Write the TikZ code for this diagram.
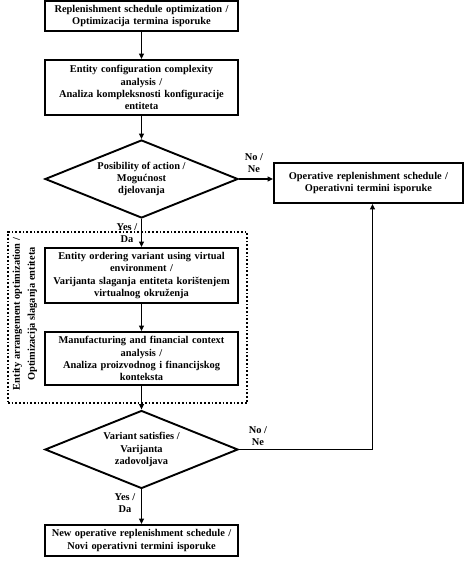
\documentclass[tikz,border=0pt]{standalone}
\usepackage{fontspec}
\setmainfont{Liberation Serif}
\usetikzlibrary{shapes.geometric,arrows.meta}
\begin{document}
\begin{tikzpicture}[x=1pt,y=-1pt,
  font=\bfseries\fontsize{10.4}{12.2}\selectfont,
  procbox/.style={draw,line width=1.9pt,align=center,inner sep=0pt,minimum width=193pt,text width=190pt},
  decbox/.style={draw,diamond,line width=1.9pt,align=center,inner sep=0pt,aspect=2.47,minimum width=193pt,minimum height=78pt},
  arr/.style={line width=1.7pt,-{Triangle[length=5.5pt,width=5pt]}},
  lbl/.style={align=center,inner sep=0pt}]
\useasboundingbox (0,0) rectangle (474,564);
\node[procbox,minimum height=30pt] (b1) at (141.5,16) {Replenishment schedule optimization /\\Optimizacija termina isporuke};
\node[procbox,minimum height=55pt] (b2) at (141.5,87.5) {Entity configuration complexity\\analysis /\\Analiza kompleksnosti konfiguracije\\entiteta};
\node[decbox] (d1) at (141.5,179) {Posibility of action /\\Mogućnost\\djelovanja};
\node[procbox,minimum width=189pt,text width=186pt,minimum height=40pt] (op) at (368.5,183) {Operative replenishment schedule /\\Operativni termini isporuke};
\node[procbox,minimum height=55pt] (b3) at (141.5,275.5) {Entity ordering variant using virtual\\environment /\\Varijanta slaganja entiteta korištenjem\\virtualnog okruženja};
\node[procbox,minimum height=53pt] (b4) at (141.5,358.5) {Manufacturing and financial context\\analysis /\\Analiza proizvodnog i financijskog\\konteksta};
\node[decbox] (d2) at (141.5,449.5) {Variant satisfies /\\Varijanta\\zadovoljava};
\node[procbox,minimum height=31pt] (b5) at (141.5,540.5) {New operative replenishment schedule /\\Novi operativni termini isporuke};
\node[draw,dotted,line width=1.7pt,inner sep=0pt,minimum width=239pt,minimum height=171pt] (grp) at (127.5,317.5) {};
\node[lbl,rotate=90,font=\bfseries\fontsize{10.4}{15}\selectfont] (glbl) at (25,314) {Entity arrangement optimization /\\Optimizacija slaganja entiteta};
\node[lbl] (no1) at (254,163.5) {No /\\Ne};
\node[lbl] (no2) at (258,436) {No /\\Ne};
\node[lbl] (yes1) at (127,233) {Yes /\\Da};
\node[lbl] (yes2) at (125,503) {Yes /\\Da};
\coordinate (corner) at (372.5,449.5);
\draw[arr] (b1) -- (b2);
\draw[arr] (b2) -- (d1);
\draw[arr] (d1.east) -- (d1.east -| op.west);
\draw[arr] (d1) -- (b3);
\draw[arr] (b3) -- (b4);
\draw[arr] (b4) -- (d2);
\draw[arr] (d2) -- (b5);
\draw[arr] (d2.east) -- (corner) -- (corner |- op.south);
\end{tikzpicture}
\end{document}
